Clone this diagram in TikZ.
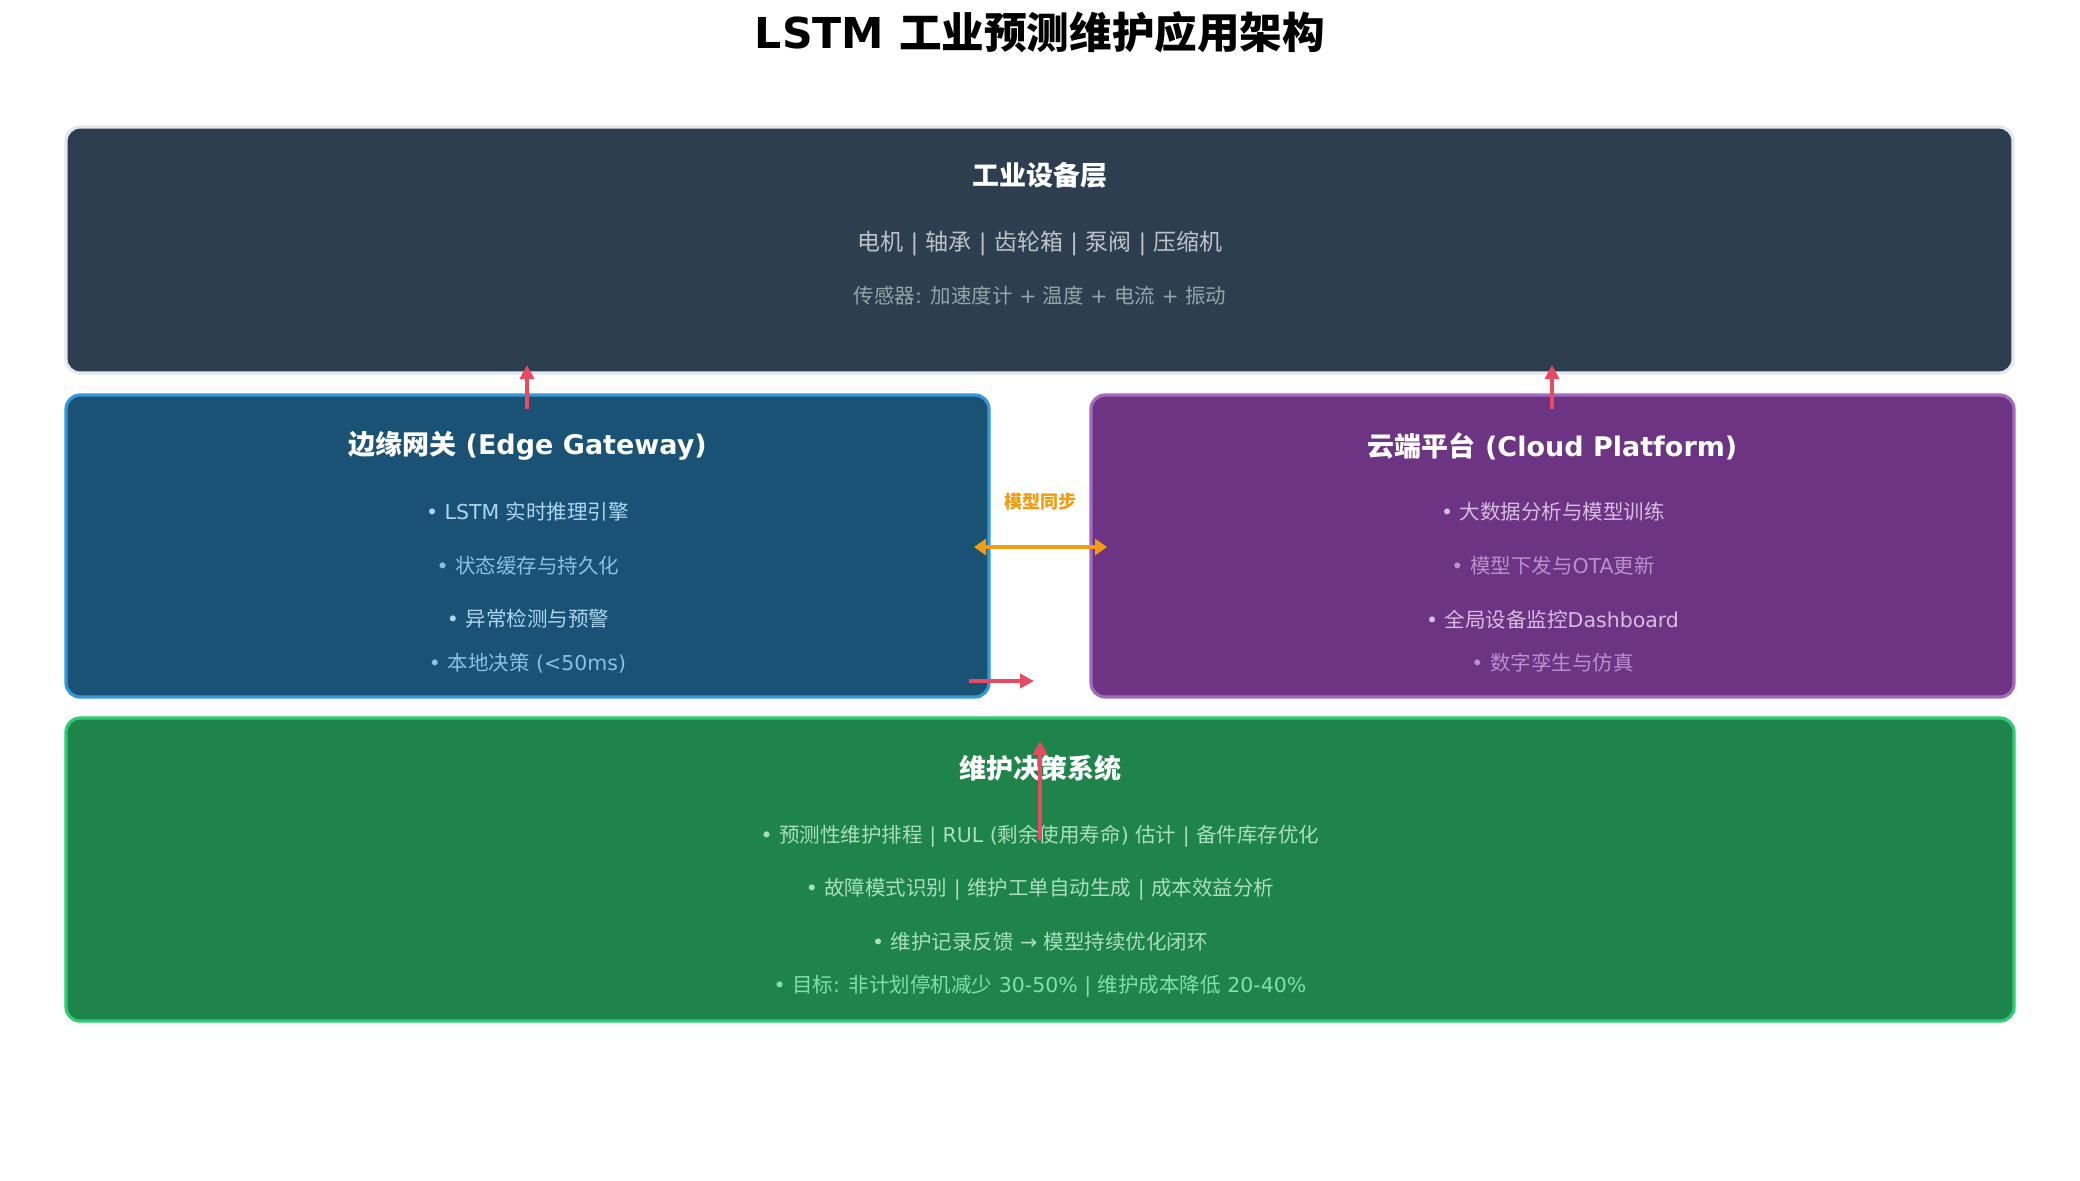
\documentclass[tikz,border=0pt]{standalone}
\usepackage{fontspec}
\setmainfont{DejaVu Sans}
\newfontfamily\cjk{Noto Sans CJK SC}
\usetikzlibrary{arrows.meta}
\newcommand\zh[1]{{\cjk #1}}
\definecolor{topfill}{HTML}{2C3E50}
\definecolor{topline}{HTML}{E3E8EC}
\definecolor{topsub}{HTML}{BDC3C7}
\definecolor{topsub2}{HTML}{95A5A6}
\definecolor{edgefill}{HTML}{1A5276}
\definecolor{edgeline}{HTML}{3498DB}
\definecolor{edgeA}{HTML}{AED6F1}
\definecolor{edgeB}{HTML}{85C1E9}
\definecolor{cloudfill}{HTML}{6C3483}
\definecolor{cloudline}{HTML}{A569BD}
\definecolor{cloudA}{HTML}{D7BDE2}
\definecolor{cloudB}{HTML}{BB8FCE}
\definecolor{greenfill}{HTML}{1E8449}
\definecolor{greenline}{HTML}{2ECC71}
\definecolor{greenA}{HTML}{A9DFBF}
\definecolor{greenB}{HTML}{82E0AA}
\definecolor{orangec}{HTML}{F39C12}
\definecolor{redc}{HTML}{E84A5F}
\begin{document}
\begin{tikzpicture}[x=0.5pt,y=-0.5pt,
  layerbox/.style={rectangle, rounded corners=7pt, line width=1.6pt, inner sep=0pt},
  ttl/.style={inner sep=0pt, anchor=center, text=white, font=\fontsize{13.5}{16}\selectfont\bfseries},
  body/.style={inner sep=0pt, anchor=center, font=\fontsize{10.25}{12}\selectfont},
  redarrow/.style={draw=redc, line width=2pt, -{Triangle[length=7pt,width=7pt]}},
  orangearrow/.style={draw=orangec, line width=2pt, {Triangle[length=6pt,width=8pt]}-{Triangle[length=6pt,width=8pt]}}
]
\useasboundingbox (0,0) rectangle (2080,1180);
\fill[white] (0,0) rectangle (2080,1180);

% title
\node[inner sep=0pt, font=\fontsize{21.3}{26}\selectfont\bfseries] (title) at (1040,32) {LSTM \zh{工业预测维护应用架构}};

% boxes
\node[layerbox, draw=topline, fill=topfill, minimum width=973.5pt, minimum height=123pt] (top) at (1039.5,250) {};
\node[layerbox, draw=edgeline, fill=edgefill, minimum width=461.5pt, minimum height=151pt] (edge) at (527.5,546) {};
\node[layerbox, draw=cloudline, fill=cloudfill, minimum width=461.5pt, minimum height=151pt] (cloud) at (1552.5,546) {};
\node[layerbox, draw=greenline, fill=greenfill, minimum width=974pt, minimum height=151.5pt] (bottom) at (1040,869.5) {};

% top box text
\node[ttl] (topT) at (1040,175) {\zh{工业设备层}};
\node[body, text=topsub, font=\fontsize{11.5}{13}\selectfont] (topL1) at (1040,243) {\zh{电机} | \zh{轴承} | \zh{齿轮箱} | \zh{泵阀} | \zh{压缩机}};
\node[body, text=topsub2] (topL2) at (1040,296) {\zh{传感器}: \zh{加速度计} + \zh{温度} + \zh{电流} + \zh{振动}};

% edge text
\node[ttl] (edgeT) at (527.5,446) {\zh{边缘网关} (Edge Gateway)};
\node[body, text=edgeA] (edgeL1) at (527.5,512) {• LSTM \zh{实时推理引擎}};
\node[body, text=edgeB] (edgeL2) at (528,566) {• \zh{状态缓存与持久化}};
\node[body, text=edgeA] (edgeL3) at (528,619) {• \zh{异常检测与预警}};
\node[body, text=edgeB] (edgeL4) at (527.5,663) {• \zh{本地决策} (<50ms)};

% cloud text
\node[ttl] (cloudT) at (1552.5,446) {\zh{云端平台} (Cloud Platform)};
\node[body, text=cloudA] (cloudL1) at (1553,512) {• \zh{大数据分析与模型训练}};
\node[body, text=cloudB] (cloudL2) at (1553,566) {• \zh{模型下发与}OTA\zh{更新}};
\node[body, text=cloudA] (cloudL3) at (1552.5,620) {• \zh{全局设备监控}Dashboard};
\node[body, text=cloudB] (cloudL4) at (1552.5,663) {• \zh{数字孪生与仿真}};

% bottom text
\node[ttl] (botT) at (1040,768) {\zh{维护决策系统}};
\node[body, text=greenA] (botL1) at (1040,836) {• \zh{预测性维护排程} | RUL (\zh{剩余使用寿命}) \zh{估计} | \zh{备件库存优化}};
\node[body, text=greenA] (botL2) at (1040,889) {• \zh{故障模式识别} | \zh{维护工单自动生成} | \zh{成本效益分析}};
\node[body, text=greenA] (botL3) at (1040,942) {• \zh{维护记录反馈} → \zh{模型持续优化闭环}};
\node[body, text=greenB] (botL4) at (1040,986) {• \zh{目标}: \zh{非计划停机减少} 30-50\% | \zh{维护成本降低} 20-40\%};

% connector end points
\coordinate (e1) at (527,409);
\coordinate (e2) at (527,365);
\coordinate (c1) at (1552,409);
\coordinate (c2) at (1552,365);
\coordinate (s1) at (974,547);
\coordinate (s2) at (1107,547);
\coordinate (r1) at (969,681);
\coordinate (r2) at (1034,681);
\coordinate (b1) at (1040,840);
\coordinate (b2) at (1040,741);

\draw[redarrow] (e1) -- (e2);
\draw[redarrow] (c1) -- (c2);
\draw[orangearrow] (s1) -- (s2);
\node[inner sep=0pt, text=orangec, font=\fontsize{9}{11}\selectfont\bfseries] (syncL) at (1040,502) {\zh{模型同步}};
\draw[redarrow] (r1) -- (r2);
\draw[redarrow] (b1) -- (b2);
\end{tikzpicture}
\end{document}
